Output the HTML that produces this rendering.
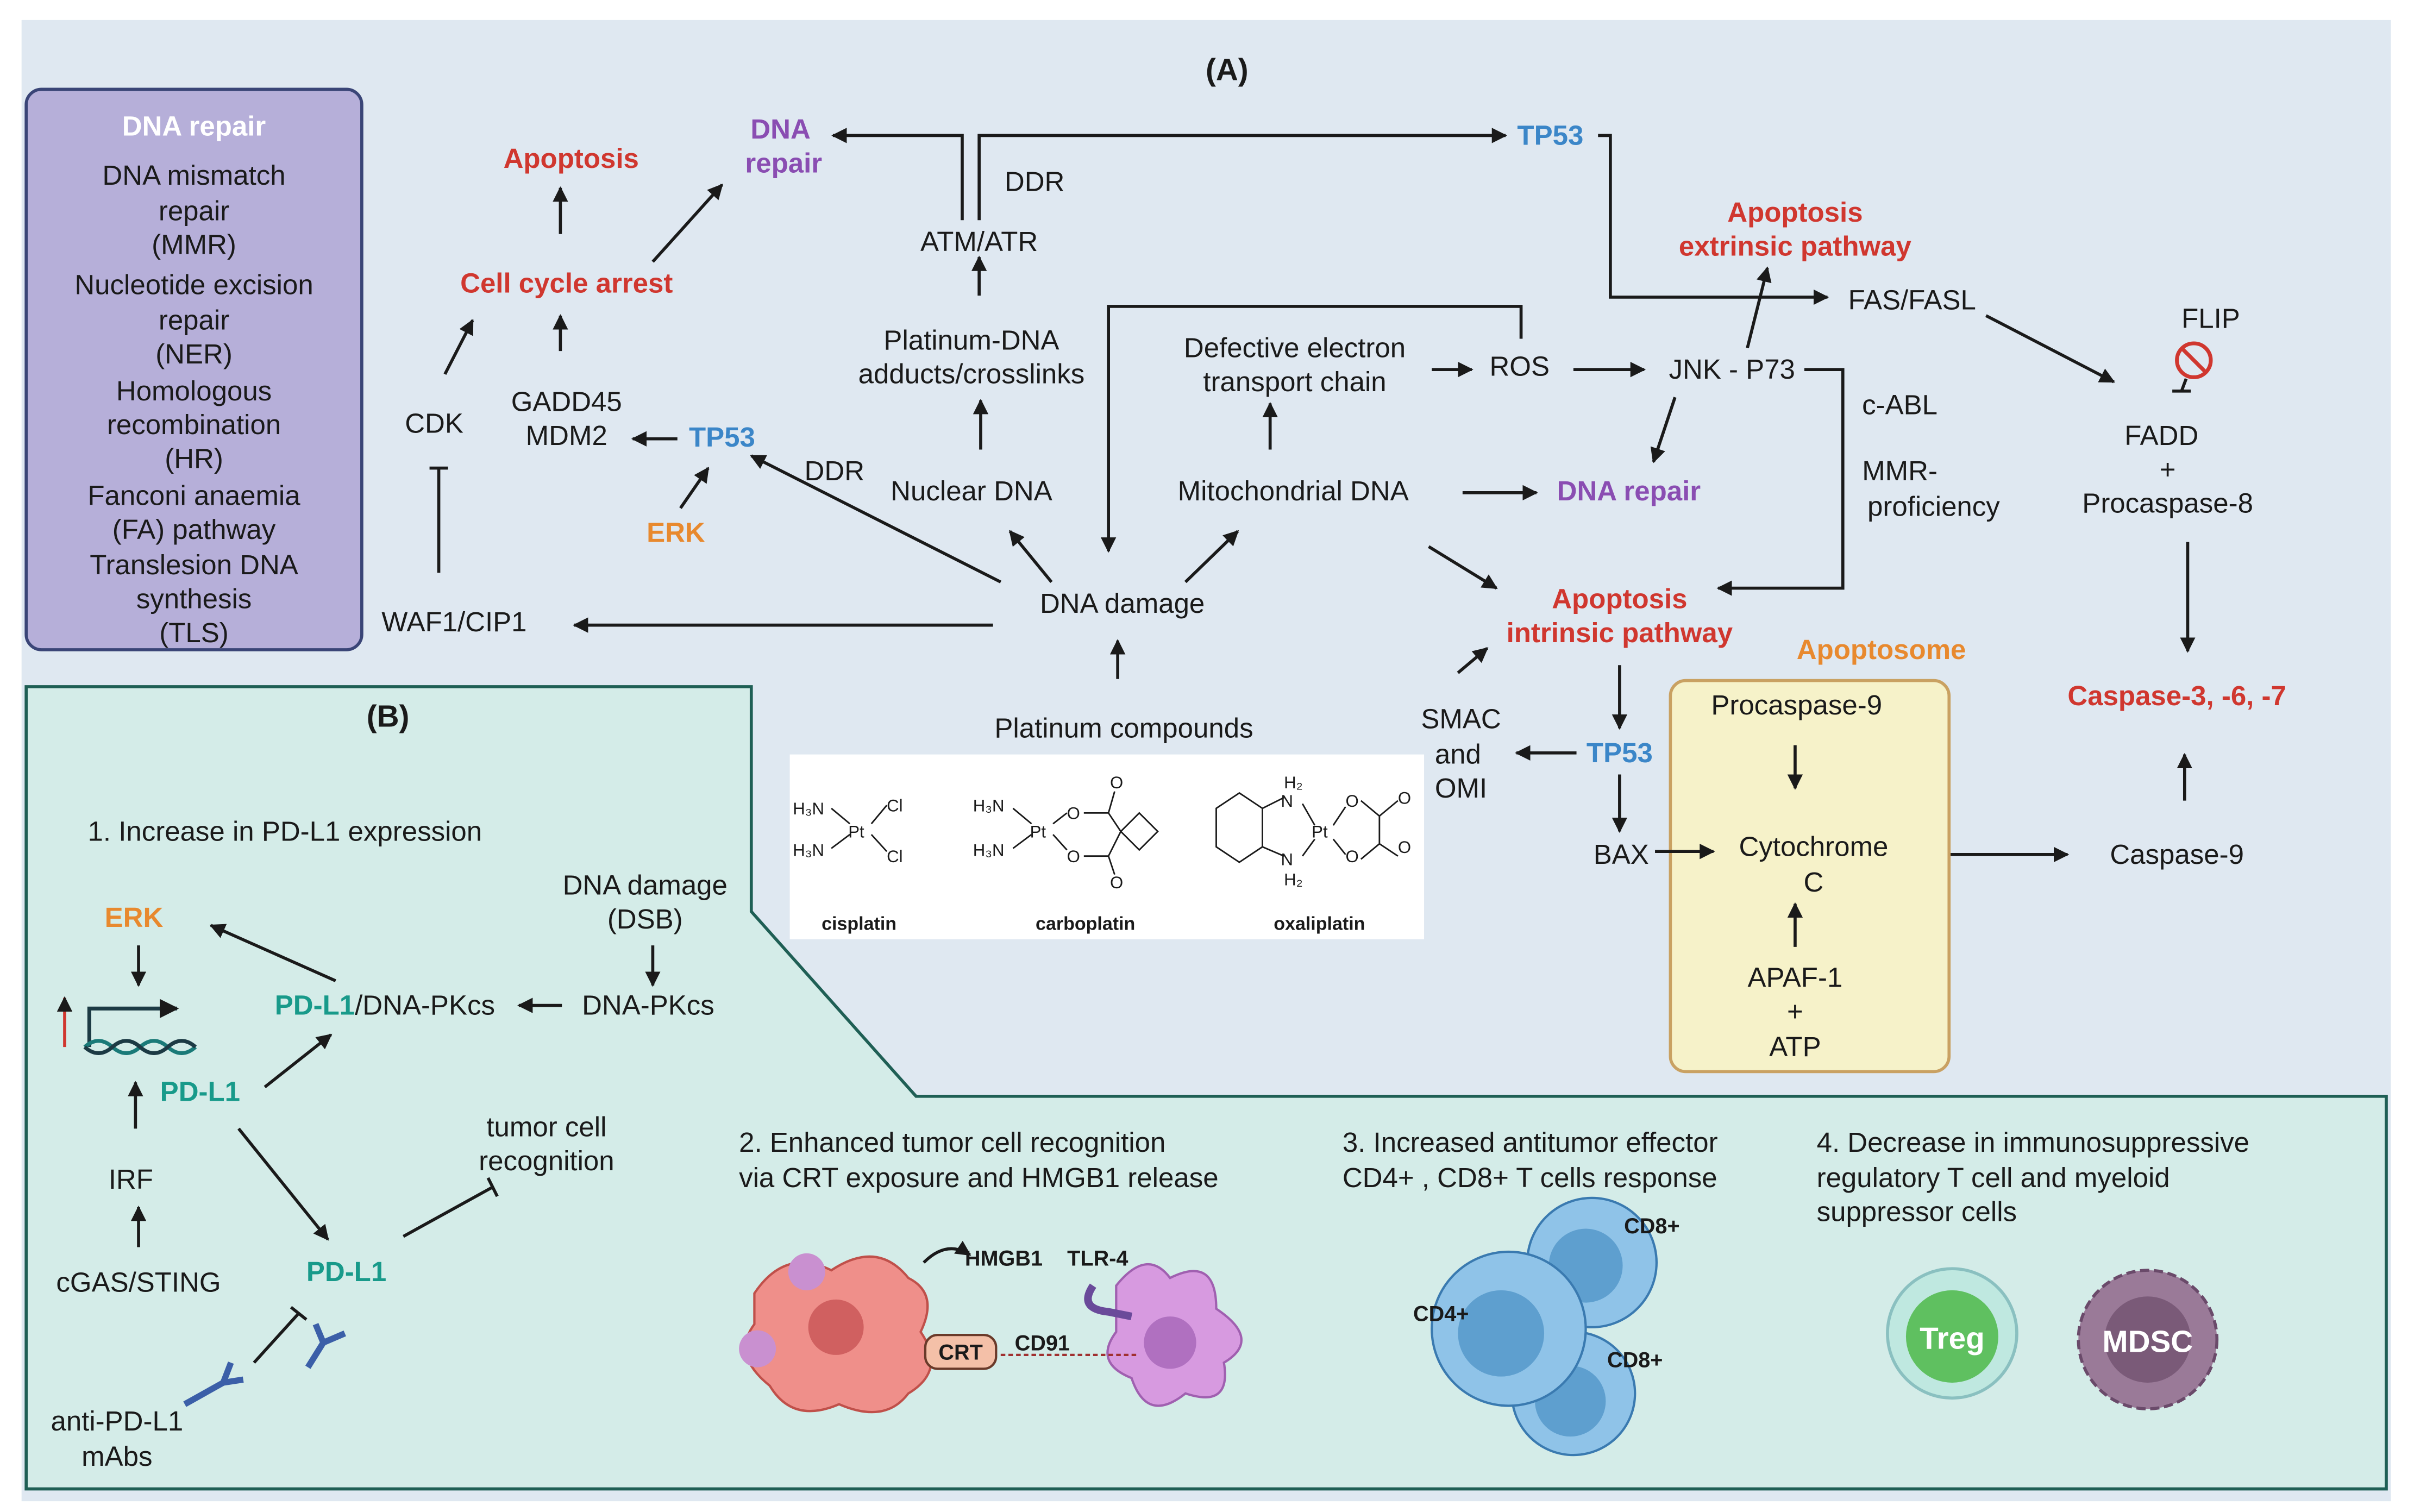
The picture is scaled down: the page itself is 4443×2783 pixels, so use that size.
<!DOCTYPE html>
<html><head><meta charset="utf-8"><style>
html,body{margin:0;padding:0;background:#fff;}
svg{display:block;}
text{font-family:"Liberation Sans",Arial,sans-serif;font-size:18px;fill:#1a1a1a;}
.c{text-anchor:middle;}
.b{font-weight:bold;}
.red{fill:#d0372f;font-weight:bold;}
.blue{fill:#3b86c8;font-weight:bold;}
.pur{fill:#8a4db2;font-weight:bold;}
.org{fill:#e8892e;font-weight:bold;}
.teal{fill:#189a8a;font-weight:bold;}
.ln{stroke:#1a1a1a;stroke-width:2;fill:none;}
.ch text{font-size:11px;}
</style></head><body>
<svg width="4443" height="2783" viewBox="0 0 1568 982" preserveAspectRatio="none" xmlns="http://www.w3.org/2000/svg">
<defs>
<marker id="a" viewBox="0 0 10 10" refX="9" refY="5" markerWidth="5" markerHeight="5" orient="auto-start-reverse"><path d="M0,0 L10,5 L0,10 z" fill="#1a1a1a"/></marker>
</defs>
<rect x="0" y="0" width="1568" height="982" fill="#fff"/>
<rect x="14" y="13" width="1539" height="962" fill="#dfe8f1"/>
<!-- Panel B -->
<polygon points="17,446 488,446 488,592 595,712 1550,712 1550,967 17,967" fill="#d4ece8" stroke="#1f5f55" stroke-width="2"/>
<text x="797" y="52" class="c b" style="font-size:20px">(A)</text>
<!-- DNA repair box -->
<rect x="17" y="58" width="218" height="364" rx="10" fill="#b6afd9" stroke="#3a4577" stroke-width="2"/>
<text x="126" y="88" class="c b" style="fill:#fff">DNA repair</text>
<g class="c">
<text x="126" y="120" class="c">DNA mismatch</text>
<text x="126" y="143" class="c">repair</text>
<text x="126" y="165" class="c">(MMR)</text>
<text x="126" y="191" class="c">Nucleotide excision</text>
<text x="126" y="214" class="c">repair</text>
<text x="126" y="236" class="c">(NER)</text>
<text x="126" y="260" class="c">Homologous</text>
<text x="126" y="282" class="c">recombination</text>
<text x="126" y="304" class="c">(HR)</text>
<text x="126" y="328" class="c">Fanconi anaemia</text>
<text x="126" y="350" class="c">(FA) pathway</text>
<text x="126" y="373" class="c">Translesion DNA</text>
<text x="126" y="395" class="c">synthesis</text>
<text x="126" y="417" class="c">(TLS)</text>
</g>
<!-- left part -->
<text x="371" y="109" class="c red">Apoptosis</text>
<line x1="364" y1="152" x2="364" y2="122" class="ln" marker-end="url(#a)"/>
<text x="507" y="90" class="c pur">DNA</text>
<text x="509" y="112" class="c pur">repair</text>
<line x1="424" y1="170" x2="469" y2="120" class="ln" marker-end="url(#a)"/>
<text x="368" y="190" class="c red">Cell cycle arrest</text>
<line x1="289" y1="243" x2="307" y2="208" class="ln" marker-end="url(#a)"/>
<line x1="364" y1="228" x2="364" y2="205" class="ln" marker-end="url(#a)"/>
<text x="282" y="281" class="c">CDK</text>
<text x="368" y="267" class="c">GADD45</text>
<text x="368" y="289" class="c">MDM2</text>
<text x="469" y="290" class="c blue">TP53</text>
<line x1="440" y1="285" x2="411" y2="285" class="ln" marker-end="url(#a)"/>
<text x="439" y="352" class="c org">ERK</text>
<line x1="442" y1="330" x2="460" y2="304" class="ln" marker-end="url(#a)"/>
<line x1="285" y1="372" x2="285" y2="304" class="ln"/><line x1="279" y1="304" x2="291" y2="304" class="ln"/>
<text x="295" y="410" class="c">WAF1/CIP1</text>
<line x1="645" y1="406" x2="373" y2="406" class="ln" marker-end="url(#a)"/>
<text x="542" y="312" class="c">DDR</text>
<line x1="650" y1="378" x2="488" y2="296" class="ln" marker-end="url(#a)"/>
<text x="631" y="325" class="c">Nuclear DNA</text>
<line x1="683" y1="378" x2="656" y2="345" class="ln" marker-end="url(#a)"/>
<text x="729" y="398" class="c">DNA damage</text>
<line x1="726" y1="441" x2="726" y2="416" class="ln" marker-end="url(#a)"/>
<line x1="770" y1="378" x2="804" y2="345" class="ln" marker-end="url(#a)"/>
<text x="730" y="479" class="c">Platinum compounds</text>
<!-- chem box -->
<rect x="513" y="490" width="412" height="120" fill="#fff"/>
<g class="ch">
<text x="515" y="529">H₃N</text><text x="515" y="556">H₃N</text><text x="551" y="544">Pt</text><text x="576" y="527">Cl</text><text x="576" y="560">Cl</text>
<path d="M540,525 L552,535 M540,551 L552,542 M566,535 L576,523 M566,542 L576,553" class="ln" style="stroke-width:1"/>
<text x="558" y="604" class="c b" style="font-size:12px">cisplatin</text>
<text x="632" y="527">H₃N</text><text x="632" y="556">H₃N</text><text x="669" y="544">Pt</text>
<text x="693" y="532">O</text><text x="693" y="560">O</text><text x="721" y="512">O</text><text x="721" y="577">O</text>
<path d="M658,525 L670,535 M658,551 L670,542 M684,535 L693,528 M684,542 L693,552 M704,528 L720,528 L728,540 L720,556 L704,556 M720,528 L724,514 M720,556 L724,568 M728,540 L740,528 L752,540 L740,552 Z" class="ln" style="stroke-width:1"/>
<text x="705" y="604" class="c b" style="font-size:12px">carboplatin</text>
<path d="M790,525 L805,515 L820,525 L820,550 L805,560 L790,550 Z M820,525 L834,518 M820,550 L834,556 M846,522 L854,536 M846,556 L854,545 M866,536 L874,524 M866,545 L874,555 M884,520 L896,530 L896,548 L884,558 M896,530 L908,520 M896,548 L908,556" class="ln" style="stroke-width:1"/>
<text x="834" y="512">H₂</text><text x="832" y="524">N</text><text x="832" y="562">N</text><text x="834" y="575">H₂</text>
<text x="852" y="544">Pt</text><text x="874" y="524">O</text><text x="874" y="560">O</text><text x="908" y="522">O</text><text x="908" y="554">O</text>
<text x="857" y="604" class="c b" style="font-size:12px">oxaliplatin</text>
</g>
<!-- middle -->
<text x="840" y="325" class="c">Mitochondrial DNA</text>
<line x1="825" y1="292" x2="825" y2="262" class="ln" marker-end="url(#a)"/>
<line x1="950" y1="320" x2="998" y2="320" class="ln" marker-end="url(#a)"/>
<text x="1058" y="325" class="c pur">DNA repair</text>
<text x="841" y="232" class="c">Defective electron</text>
<text x="841" y="254" class="c">transport chain</text>
<line x1="930" y1="240" x2="956" y2="240" class="ln" marker-end="url(#a)"/>
<text x="987" y="244" class="c">ROS</text>
<line x1="1022" y1="240" x2="1068" y2="240" class="ln" marker-end="url(#a)"/>
<text x="1125" y="246" class="c">JNK - P73</text>
<path d="M988,220 L988,199 L720,199 L720,358" class="ln" marker-end="url(#a)"/>
<text x="631" y="227" class="c">Platinum-DNA</text>
<text x="631" y="249" class="c">adducts/crosslinks</text>
<line x1="637" y1="292" x2="637" y2="260" class="ln" marker-end="url(#a)"/>
<line x1="636" y1="192" x2="636" y2="167" class="ln" marker-end="url(#a)"/>
<text x="636" y="163" class="c">ATM/ATR</text>
<text x="672" y="124" class="c">DDR</text>
<path d="M625,143 L625,88 L541,88" class="ln" marker-end="url(#a)"/>
<path d="M636,143 L636,88 L978,88" class="ln" marker-end="url(#a)"/>
<text x="1007" y="94" class="c blue">TP53</text>
<path d="M1038,88 L1046,88 L1046,193 L1187,193" class="ln" marker-end="url(#a)"/>
<text x="1242" y="201" class="c">FAS/FASL</text>
<text x="1166" y="144" class="c red">Apoptosis</text>
<text x="1166" y="166" class="c red">extrinsic pathway</text>
<line x1="1135" y1="226" x2="1148" y2="174" class="ln" marker-end="url(#a)"/>
<line x1="1088" y1="258" x2="1074" y2="300" class="ln" marker-end="url(#a)"/>
<path d="M1172,240 L1197,240 L1197,382 L1116,382" class="ln" marker-end="url(#a)"/>
<text x="1234" y="269" class="c">c-ABL</text>
<text x="1234" y="312" class="c">MMR-</text>
<text x="1256" y="335" class="c">proficiency</text>
<line x1="1290" y1="205" x2="1373" y2="248" class="ln" marker-end="url(#a)"/>
<text x="1436" y="213" class="c">FLIP</text>
<circle cx="1425" cy="234" r="11" fill="none" stroke="#d0372f" stroke-width="2.5"/>
<line x1="1417" y1="226" x2="1433" y2="242" stroke="#d0372f" stroke-width="2.5"/>
<line x1="1420" y1="246" x2="1417" y2="254" class="ln"/><line x1="1411" y1="254" x2="1423" y2="254" class="ln"/>
<text x="1404" y="289" class="c">FADD</text>
<text x="1408" y="311" class="c">+</text>
<text x="1408" y="333" class="c">Procaspase-8</text>
<line x1="1421" y1="352" x2="1421" y2="423" class="ln" marker-end="url(#a)"/>
<text x="1414" y="458" class="c red">Caspase-3, -6, -7</text>
<line x1="1419" y1="520" x2="1419" y2="490" class="ln" marker-end="url(#a)"/>
<text x="1414" y="561" class="c">Caspase-9</text>
<line x1="1255" y1="555" x2="1343" y2="555" class="ln" marker-end="url(#a)"/>
<text x="1052" y="395" class="c red">Apoptosis</text>
<text x="1052" y="417" class="c red">intrinsic pathway</text>
<line x1="928" y1="355" x2="972" y2="382" class="ln" marker-end="url(#a)"/>
<line x1="947" y1="437" x2="966" y2="421" class="ln" marker-end="url(#a)"/>
<text x="1222" y="428" class="c org">Apoptosome</text>
<rect x="1085" y="442" width="181" height="254" rx="10" fill="#f6f2c9" stroke="#c9a162" stroke-width="2"/>
<text x="1167" y="464" class="c">Procaspase-9</text>
<line x1="1166" y1="484" x2="1166" y2="512" class="ln" marker-end="url(#a)"/>
<text x="1178" y="556" class="c">Cytochrome</text>
<text x="1178" y="579" class="c">C</text>
<line x1="1166" y1="615" x2="1166" y2="587" class="ln" marker-end="url(#a)"/>
<text x="1166" y="641" class="c">APAF-1</text>
<text x="1166" y="663" class="c">+</text>
<text x="1166" y="686" class="c">ATP</text>
<text x="1052" y="495" class="c blue">TP53</text>
<line x1="1052" y1="432" x2="1052" y2="473" class="ln" marker-end="url(#a)"/>
<line x1="1024" y1="489" x2="985" y2="489" class="ln" marker-end="url(#a)"/>
<text x="949" y="473" class="c">SMAC</text>
<text x="947" y="496" class="c">and</text>
<text x="949" y="518" class="c">OMI</text>
<line x1="1052" y1="503" x2="1052" y2="540" class="ln" marker-end="url(#a)"/>
<text x="1053" y="561" class="c">BAX</text>
<line x1="1075" y1="553" x2="1113" y2="553" class="ln" marker-end="url(#a)"/>
<!-- Panel B content -->
<text x="252" y="472" class="c b" style="font-size:20px">(B)</text>
<text x="57" y="546">1.  Increase in PD-L1 expression</text>
<text x="419" y="581" class="c">DNA damage</text>
<text x="419" y="603" class="c">(DSB)</text>
<line x1="424" y1="614" x2="424" y2="640" class="ln" marker-end="url(#a)"/>
<text x="421" y="659" class="c">DNA-PKcs</text>
<line x1="365" y1="653" x2="337" y2="653" class="ln" marker-end="url(#a)"/>
<text x="250" y="659" class="c"><tspan class="teal">PD-L1</tspan>/DNA-PKcs</text>
<line x1="218" y1="637" x2="137" y2="601" class="ln" marker-end="url(#a)"/>
<text x="87" y="602" class="c org">ERK</text>
<line x1="90" y1="614" x2="90" y2="640" class="ln" marker-end="url(#a)"/>
<line x1="42" y1="680" x2="42" y2="648" stroke="#d0372f" stroke-width="2" marker-end="url(#a)"/>
<path d="M58,680 L58,655 L115,655" stroke="#1c3a44" stroke-width="2.5" fill="none" marker-end="url(#a)"/>
<path d="M55,680 Q64,672 73,680 T91,680 T109,680 T127,680" stroke="#1a7a78" stroke-width="2.5" fill="none"/>
<path d="M55,680 Q64,688 73,680 T91,680 T109,680 T127,680" stroke="#1c3a44" stroke-width="2.5" fill="none"/>
<text x="130" y="715" class="c teal">PD-L1</text>
<line x1="88" y1="733" x2="88" y2="703" class="ln" marker-end="url(#a)"/>
<text x="85" y="772" class="c">IRF</text>
<line x1="90" y1="810" x2="90" y2="784" class="ln" marker-end="url(#a)"/>
<text x="90" y="839" class="c">cGAS/STING</text>
<line x1="172" y1="706" x2="215" y2="672" class="ln" marker-end="url(#a)"/>
<line x1="155" y1="733" x2="213" y2="805" class="ln" marker-end="url(#a)"/>
<text x="225" y="832" class="c teal">PD-L1</text>
<text x="355" y="738" class="c">tumor cell</text>
<text x="355" y="760" class="c">recognition</text>
<line x1="262" y1="803" x2="320" y2="771" class="ln"/><line x1="317" y1="765" x2="323" y2="777" class="ln"/>
<line x1="165" y1="885" x2="194" y2="853" class="ln"/><line x1="189" y1="849" x2="199" y2="857" class="ln"/>
<path d="M120,912 L145,898 M145,898 L150,885 M145,898 L158,896 M200,888 L210,872 M210,872 L205,860 M210,872 L224,866" stroke="#3b5fa8" stroke-width="4" fill="none"/>
<text x="76" y="929" class="c">anti-PD-L1</text>
<text x="76" y="952" class="c">mAbs</text>
<text x="480" y="748">2.  Enhanced tumor cell recognition</text>
<text x="480" y="771">via CRT exposure and HMGB1 release</text>
<path d="M490,840 Q510,810 540,825 Q570,805 590,830 Q610,840 598,865 Q615,890 590,905 Q575,925 545,912 Q515,925 500,900 Q475,880 490,860 Z" fill="#ef8f8a" stroke="#c0504a" stroke-width="1.5"/>
<circle cx="543" cy="862" r="18" fill="#d06060"/>
<circle cx="524" cy="826" r="12" fill="#c990d0"/><circle cx="492" cy="876" r="12" fill="#c990d0"/>
<path d="M725,835 Q745,810 760,830 Q790,815 790,850 Q820,870 795,885 Q800,915 770,905 Q745,925 735,895 Q710,885 725,865 Z" fill="#d79ae0" stroke="#a060b0" stroke-width="1.5"/>
<circle cx="760" cy="872" r="17" fill="#b070c0"/>
<path d="M600,820 Q615,805 630,815" class="ln" marker-end="url(#a)"/>
<text x="652" y="822" class="c b" style="font-size:14px">HMGB1</text>
<text x="713" y="822" class="c b" style="font-size:14px">TLR-4</text>
<path d="M710,835 Q700,850 720,852 L735,855" stroke="#6a4a9a" stroke-width="5" fill="none"/>
<rect x="601" y="867" width="46" height="22" rx="8" fill="#f4c0a8" stroke="#6a3a2a" stroke-width="1.5"/>
<text x="624" y="883" class="c b" style="font-size:14px">CRT</text>
<text x="677" y="877" class="c b" style="font-size:14px">CD91</text>
<line x1="650" y1="880" x2="738" y2="880" stroke="#a03030" stroke-width="1.5" stroke-dasharray="3,2"/>
<text x="872" y="748">3.  Increased antitumor effector</text>
<text x="872" y="771">CD4+ , CD8+ T cells response</text>
<circle cx="1034" cy="820" r="42" fill="#8fc3e8" stroke="#3a7ab0" stroke-width="1.5"/><circle cx="1030" cy="822" r="24" fill="#5e9fcf"/>
<circle cx="1022" cy="905" r="40" fill="#8fc3e8" stroke="#3a7ab0" stroke-width="1.5"/><circle cx="1020" cy="910" r="23" fill="#5e9fcf"/>
<circle cx="980" cy="863" r="50" fill="#8fc3e8" stroke="#3a7ab0" stroke-width="1.5"/><circle cx="975" cy="866" r="28" fill="#5e9fcf"/>
<text x="1073" y="801" class="c b" style="font-size:14px">CD8+</text>
<text x="936" y="858" class="c b" style="font-size:14px">CD4+</text>
<text x="1062" y="888" class="c b" style="font-size:14px">CD8+</text>
<text x="1180" y="748">4.  Decrease in immunosuppressive</text>
<text x="1180" y="771">regulatory T cell and myeloid</text>
<text x="1180" y="793">suppressor cells</text>
<circle cx="1268" cy="866" r="42" fill="#bfe8e0" stroke="#8ac0c0" stroke-width="2"/>
<circle cx="1268" cy="868" r="30" fill="#5fc060"/>
<text x="1268" y="876" class="c b" style="fill:#fff;font-size:20px">Treg</text>
<circle cx="1395" cy="870" r="45" fill="#9a7a98" stroke="#6a4a6a" stroke-width="2" stroke-dasharray="6,3"/>
<circle cx="1395" cy="870" r="28" fill="#7a5a78"/>
<text x="1395" y="878" class="c b" style="fill:#fff;font-size:20px">MDSC</text>
</svg>
</body></html>
